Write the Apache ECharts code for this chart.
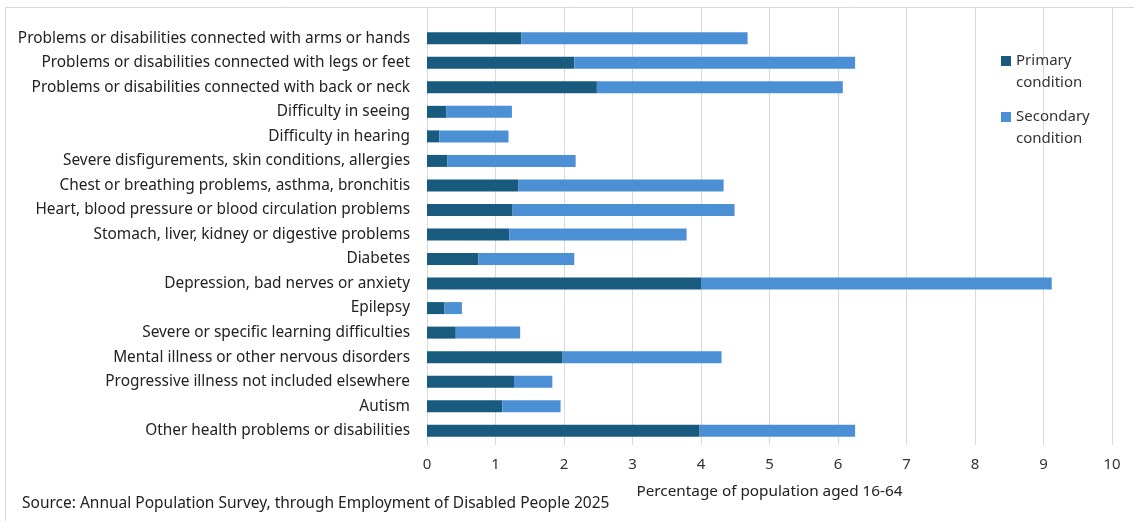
<!DOCTYPE html>
<html>
<head>
<meta charset="utf-8">
<script src="https://cdn.jsdelivr.net/npm/echarts@6/dist/echarts.min.js"></script>
<style>
  html, body { margin: 0; padding: 0; background: #ffffff; }
  #chart { width: 1134px; height: 521px; }
</style>
</head>
<body>
<div id="chart"></div>
<script>
// Health conditions, listed top to bottom
const categories = [
  'Problems or disabilities connected with arms or hands',
  'Problems or disabilities connected with legs or feet',
  'Problems or disabilities connected with back or neck',
  'Difficulty in seeing',
  'Difficulty in hearing',
  'Severe disfigurements, skin conditions, allergies',
  'Chest or breathing problems, asthma, bronchitis',
  'Heart, blood pressure or blood circulation problems',
  'Stomach, liver, kidney or digestive problems',
  'Diabetes',
  'Depression, bad nerves or anxiety',
  'Epilepsy',
  'Severe or specific learning difficulties',
  'Mental illness or other nervous disorders',
  'Progressive illness not included elsewhere',
  'Autism',
  'Other health problems or disabilities'
];

// Percentage of population aged 16-64 reporting the condition as primary
const primary = [1.38, 2.15, 2.48, 0.28, 0.18, 0.30, 1.33, 1.25, 1.20, 0.75, 4.00, 0.25, 0.42, 1.98, 1.27, 1.10, 3.98];

// Percentage reporting it as a secondary condition (stacked after primary)
const secondary = [3.30, 4.10, 3.59, 0.96, 1.01, 1.87, 3.00, 3.24, 2.59, 1.40, 5.12, 0.26, 0.94, 2.32, 0.56, 0.85, 2.27];

const seriesNames = ['Primary condition', 'Secondary condition'];
const xTicks = [0, 1, 2, 3, 4, 5, 6, 7, 8, 9, 10];

const colors = ['#195b7e', '#4b8fd5'];
const font = '"Noto Sans", "Open Sans", sans-serif';

const chart = echarts.init(document.getElementById('chart'), null, { renderer: 'canvas' });

function legendBlock(name, top) {
  return {
    data: [name],
    orient: 'vertical',
    left: 996,
    top: top,
    icon: 'rect',
    itemWidth: 10,
    itemHeight: 10,
    itemGap: 0,
    // leading blank line keeps the marker level with the first text line
    formatter: n => '\n' + n.replace(' ', '\n'),
    textStyle: { fontFamily: font, fontSize: 15, color: '#333333', lineHeight: 22 }
  };
}

const option = {
  backgroundColor: '#ffffff',
  animation: false,
  color: colors,
  graphic: [
    {
      type: 'rect',
      shape: { x: 5.5, y: 7.5, width: 1140, height: 530 },
      style: { fill: 'none', stroke: '#d9d9d9', lineWidth: 1 },
      z: -10
    },
    {
      type: 'text',
      left: 22,
      top: 496,
      style: {
        text: 'Source: Annual Population Survey, through Employment of Disabled People 2025',
        font: '15.5px ' + font,
        fill: '#222222'
      }
    }
  ],
  legend: [
    legendBlock(seriesNames[0], 23),
    legendBlock(seriesNames[1], 79)
  ],
  grid: [
    { left: 427, right: 22, top: 26, bottom: 78, containLabel: false },
    { left: 427, right: 22, top: 8, bottom: 76, containLabel: false }
  ],
  xAxis: [
    {
      type: 'value',
      gridIndex: 0,
      min: 0,
      max: 10,
      interval: 1,
      axisLine: { show: false },
      axisTick: { show: false },
      splitLine: { show: false },
      axisLabel: {
        margin: 14,
        fontFamily: font,
        fontSize: 15,
        color: '#333333',
        formatter: v => (xTicks.indexOf(v) >= 0 ? String(v) : '')
      },
      name: 'Percentage of population aged 16-64',
      nameLocation: 'middle',
      nameGap: 41,
      nameTextStyle: { fontFamily: font, fontSize: 15.3, color: '#222222' }
    },
    {
      // background gridlines spanning the full plot area
      type: 'value',
      gridIndex: 1,
      min: 0,
      max: 10,
      interval: 1,
      axisLine: { show: false },
      axisTick: { show: false },
      axisLabel: { show: false },
      splitLine: { show: true, lineStyle: { color: '#d9d9d9', width: 1 } }
    }
  ],
  yAxis: [
    {
      type: 'category',
      gridIndex: 0,
      data: categories,
      inverse: true,
      axisLine: { show: false },
      axisTick: { show: false },
      splitLine: { show: false },
      axisLabel: {
        margin: 17,
        fontFamily: font,
        fontSize: 15.4,
        color: '#222222'
      }
    },
    {
      type: 'category',
      gridIndex: 1,
      data: categories,
      show: false
    }
  ],
  series: [
    {
      name: seriesNames[0],
      type: 'bar',
      stack: 'total',
      data: primary,
      barWidth: 12,
      itemStyle: { color: colors[0] },
      z: 3
    },
    {
      name: seriesNames[1],
      type: 'bar',
      stack: 'total',
      data: secondary,
      barWidth: 12,
      itemStyle: { color: colors[1] },
      z: 3
    }
  ]
};

chart.setOption(option);
</script>
</body>
</html>
